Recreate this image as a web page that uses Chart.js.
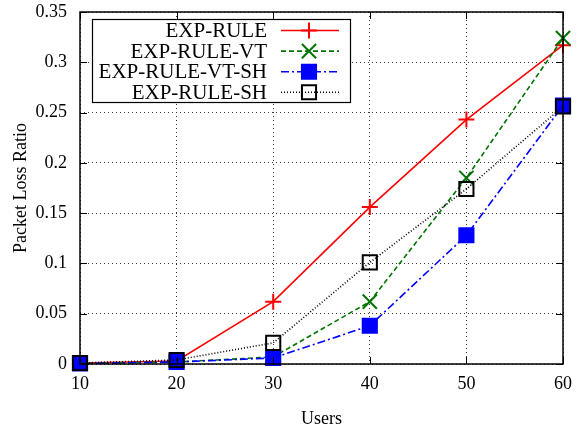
<!DOCTYPE html>
<html>
<head>
<meta charset="utf-8">
<script src="https://cdn.jsdelivr.net/npm/chart.js@4/dist/chart.umd.min.js"></script>
<style>
  html, body { margin: 0; padding: 0; background: #fff; }
  #chart { display: block; }
</style>
</head>
<body>
<canvas id="chart" width="580" height="431"></canvas>
<script>
// values
const users = [10, 20, 30, 40, 50, 60];
const expRule = [0.001, 0.003, 0.062, 0.156, 0.243, 0.317];
const expRuleVT = [0.0005, 0.002, 0.007, 0.062, 0.185, 0.324];
const expRuleVTSH = [0.0005, 0.002, 0.006, 0.038, 0.128, 0.257];
const expRuleSH = [0.001, 0.004, 0.021, 0.101, 0.174, 0.256];
const seriesNames = ['EXP-RULE', 'EXP-RULE-VT', 'EXP-RULE-VT-SH', 'EXP-RULE-SH'];
const yTicks = [0, 0.05, 0.1, 0.15, 0.2, 0.25, 0.3, 0.35];

const serif = '"Liberation Serif", "DejaVu Serif", serif';

function toPoints(values) {
    return values.map((v, i) => ({ x: users[i], y: v }));
}

function series(name, values, color, dash, style, radius, fill, order) {
    return {
        label: name,
        data: toPoints(values),
        borderColor: color,
        borderWidth: 1.6,
        borderDash: dash,
        pointStyle: style,
        pointRadius: radius,
        pointBorderColor: color,
        pointBackgroundColor: fill,
        pointBorderWidth: 2,
        fill: false,
        tension: 0,
        clip: false,
        order: order
    };
}

// gnuplot style frame with inward ticks on all four sides
const framePlugin = {
    id: 'frame',
    afterDatasetsDraw(chart) {
        const { ctx, chartArea: a, scales } = chart;
        ctx.save();
        ctx.strokeStyle = '#000';
        ctx.lineWidth = 1;
        ctx.setLineDash([]);
        ctx.beginPath();
        const len = 7;
        users.forEach(u => {
            const x = Math.round(scales.x.getPixelForValue(u)) + 0.5;
            ctx.moveTo(x, a.bottom); ctx.lineTo(x, a.bottom - len);
            ctx.moveTo(x, a.top); ctx.lineTo(x, a.top + len);
        });
        yTicks.forEach(t => {
            const y = Math.round(scales.y.getPixelForValue(t)) + 0.5;
            ctx.moveTo(a.left, y); ctx.lineTo(a.left + len, y);
            ctx.moveTo(a.right, y); ctx.lineTo(a.right - len, y);
        });
        ctx.stroke();
        ctx.lineWidth = 1.5;
        ctx.strokeRect(a.left, a.top, a.right - a.left, a.bottom - a.top);
        ctx.restore();
    }
};

function marker(ctx, ds, x, y) {
    const r = ds.pointRadius;
    ctx.save();
    ctx.setLineDash([]);
    ctx.strokeStyle = ds.pointBorderColor;
    ctx.fillStyle = ds.pointBackgroundColor;
    ctx.lineWidth = ds.pointBorderWidth;
    ctx.beginPath();
    if (ds.pointStyle === 'cross') {
        ctx.moveTo(x - r, y); ctx.lineTo(x + r, y);
        ctx.moveTo(x, y - r); ctx.lineTo(x, y + r);
        ctx.stroke();
    } else if (ds.pointStyle === 'crossRot') {
        const d = r * Math.SQRT1_2;
        ctx.moveTo(x - d, y - d); ctx.lineTo(x + d, y + d);
        ctx.moveTo(x + d, y - d); ctx.lineTo(x - d, y + d);
        ctx.stroke();
    } else {
        const s = r * Math.SQRT1_2;
        ctx.rect(x - s, y - s, 2 * s, 2 * s);
        ctx.fill();
        ctx.stroke();
    }
    ctx.restore();
}

// legend box drawn the way gnuplot does it
const keyPlugin = {
    id: 'key',
    afterDraw(chart) {
        const ctx = chart.ctx;
        const box = { left: 92.5, top: 19.5, right: 350.5, bottom: 102.5 };
        ctx.save();
        ctx.fillStyle = '#fff';
        ctx.fillRect(box.left, box.top, box.right - box.left, box.bottom - box.top);
        ctx.strokeStyle = '#000';
        ctx.lineWidth = 1.2;
        ctx.strokeRect(box.left, box.top, box.right - box.left, box.bottom - box.top);
        ctx.font = '21px ' + serif;
        ctx.textAlign = 'right';
        ctx.textBaseline = 'middle';
        chart.data.datasets.forEach((ds, i) => {
            const y = 30.5 + i * 20.6;
            ctx.fillStyle = '#000';
            ctx.fillText(ds.label, 267, y + 1);
            ctx.save();
            ctx.strokeStyle = ds.borderColor;
            ctx.lineWidth = ds.borderWidth;
            ctx.setLineDash(ds.borderDash);
            ctx.beginPath();
            ctx.moveTo(281, y); ctx.lineTo(339, y);
            ctx.stroke();
            ctx.restore();
            marker(ctx, ds, 309, y);
        });
        ctx.restore();
    }
};

new Chart(document.getElementById('chart'), {
    type: 'line',
    data: {
        datasets: [
            series(seriesNames[0], expRule, '#ff0000', [], 'cross', 8, '#ff0000', 4),
            series(seriesNames[1], expRuleVT, '#007400', [5, 3], 'crossRot', 10, '#007400', 3),
            series(seriesNames[2], expRuleVTSH, '#0000ff', [8, 3, 2, 3], 'rect', 10, '#0000ff', 2),
            series(seriesNames[3], expRuleSH, '#000000', [1, 2], 'rect', 10, 'rgba(0,0,0,0)', 1)
        ]
    },
    options: {
        responsive: false,
        animation: false,
        layout: { padding: { top: 12, right: 17, left: 0, bottom: 0 } },
        plugins: {
            legend: { display: false },
            tooltip: { enabled: false }
        },
        scales: {
            x: {
                type: 'linear',
                min: 10,
                max: 60,
                afterFit(scale) {
                    scale.height = 67;
                    scale.paddingLeft = 0;
                    scale.paddingRight = 0;
                },
                afterBuildTicks(scale) { scale.ticks = users.map(v => ({ value: v })); },
                ticks: {
                    color: '#000',
                    padding: 9,
                    font: { family: serif, size: 18 }
                },
                grid: { color: '#333', lineWidth: 1, drawTicks: false },
                border: { display: false, dash: [1, 3] },
                title: {
                    display: true,
                    text: 'Users',
                    color: '#000',
                    font: { family: serif, size: 18 },
                    padding: { top: 0, bottom: 1 }
                }
            },
            y: {
                min: 0,
                max: 0.35,
                afterFit(scale) {
                    scale.width = 80;
                    scale.paddingTop = 0;
                    scale.paddingBottom = 0;
                },
                afterBuildTicks(scale) { scale.ticks = yTicks.map(v => ({ value: v })); },
                ticks: {
                    color: '#000',
                    padding: 13,
                    font: { family: serif, size: 18 },
                    callback: v => String(v)
                },
                grid: { color: '#333', lineWidth: 1, drawTicks: false },
                border: { display: false, dash: [1, 3] },
                title: {
                    display: true,
                    text: 'Packet Loss Ratio',
                    color: '#000',
                    font: { family: serif, size: 18 },
                    padding: { top: 10, bottom: 0 }
                }
            }
        }
    },
    plugins: [framePlugin, keyPlugin]
});
</script>
</body>
</html>
